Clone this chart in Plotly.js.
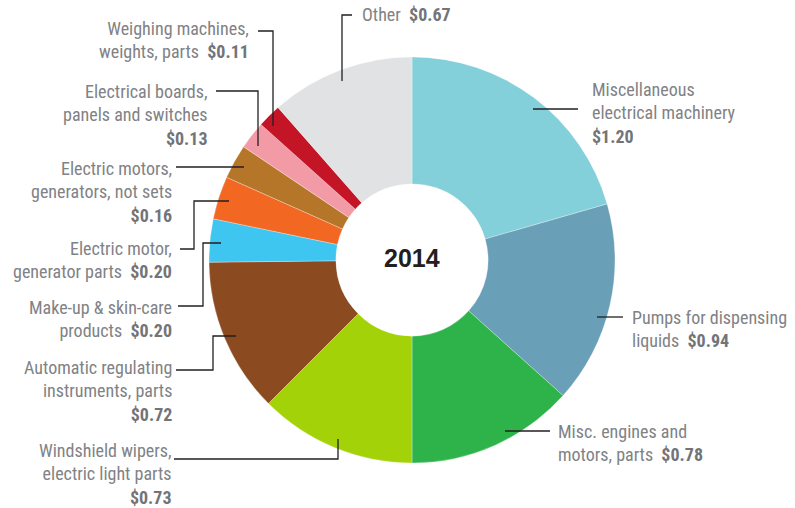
<!DOCTYPE html>
<html>
<head>
<meta charset="utf-8">
<script src="https://cdn.plot.ly/plotly-3.0.1.min.js"></script>
<style>
  html, body { margin: 0; padding: 0; background: #ffffff; }
  #chart { width: 795px; height: 508px; }
</style>
</head>
<body>
<div id="chart"></div>
<script>
// ---- Data (US$ billions, 2014) ----
const categories = [
  "Miscellaneous electrical machinery",
  "Pumps for dispensing liquids",
  "Misc. engines and motors, parts",
  "Windshield wipers, electric light parts",
  "Automatic regulating instruments, parts",
  "Make-up & skin-care products",
  "Electric motor, generator parts",
  "Electric motors, generators, not sets",
  "Electrical boards, panels and switches",
  "Weighing machines, weights, parts",
  "Other"
];
const values = [1.20, 0.94, 0.78, 0.73, 0.72, 0.20, 0.20, 0.16, 0.13, 0.11, 0.67];
const sliceColors = ["#83D0DB", "#6A9FB8", "#2DB34A", "#A2D207", "#8B4A20",
                     "#3EC5F0", "#F26722", "#B5762A", "#F29BA6", "#C41527", "#E1E2E3"];
const centerLabel = "2014";
// label display text, "{v}" is replaced by the value
const labelTemplates = [
  "Miscellaneous<br>electrical machinery<br>{v}",
  "Pumps for dispensing<br>liquids  {v}",
  "Misc. engines and<br>motors, parts  {v}",
  "Windshield wipers,<br>electric light parts<br>{v}",
  "Automatic regulating<br>instruments, parts<br>{v}",
  "Make-up & skin-care<br>products  {v}",
  "Electric motor,<br>generator parts  {v}",
  "Electric motors,<br>generators, not sets<br>{v}",
  "Electrical boards,<br>panels and switches<br>{v}",
  "Weighing machines,<br>weights, parts  {v}",
  "Other  {v}"
];

// ---- Layout positions (pixels) ----
const W = 795, H = 508;
const px = x => x / W;
const py = y => 1 - y / H;
// [x, y, side]  side: 'left' => text anchored at its left edge; 'right' => right edge
const labelPos = [
  [592, 113, 'left'],
  [632, 329, 'left'],
  [558, 443, 'left'],
  [172, 474, 'right'],
  [172, 391, 'right'],
  [172, 319, 'right'],
  [172, 260, 'right'],
  [172, 192, 'right'],
  [208, 115, 'right'],
  [249, 40, 'right'],
  [362, 15, 'left']
];
// leader polylines in pixels
const leaders = [
  [[533, 109], [578, 109]],
  [[597, 317], [623, 317]],
  [[505, 431], [550, 431]],
  [[174, 459], [338, 459], [338, 439]],
  [[176, 370], [213, 370], [213, 336], [236, 336]],
  [[178, 306], [203, 306], [203, 243], [221, 243]],
  [[180, 249], [194, 249], [194, 201], [229, 201]],
  [[176, 167], [244, 167]],
  [[216, 91], [258, 91], [258, 146]],
  [[258, 31], [273, 31], [273, 126]],
  [[352, 15], [342, 15], [342, 81]]
];
const cx = 412, cy = 260, R = 203;

const fontFam = '"Liberation Sans Narrow", "Roboto Condensed", "Arial Narrow", Roboto, "Liberation Sans", sans-serif';
const labelColor = "#808285";
const valueColor = "#737477";

const trace = {
  type: 'pie',
  labels: categories,
  values: values,
  sort: false,
  direction: 'clockwise',
  rotation: 0,
  hole: 0.375,
  textinfo: 'none',
  hoverinfo: 'label+value',
  marker: { colors: sliceColors, line: { color: '#ffffff', width: 0.3 } },
  domain: { x: [px(cx - R), px(cx + R)], y: [py(cy + R), py(cy - R)] },
  showlegend: false
};

const annotations = categories.map((c, i) => {
  const [x, y, side] = labelPos[i];
  const vtxt = '<b><span style="color:' + valueColor + '">$' + values[i].toFixed(2) + '</span></b>';
  return {
    xref: 'paper', yref: 'paper',
    x: px(x), y: py(y),
    xanchor: side, yanchor: 'middle',
    align: side,
    text: labelTemplates[i].replace('{v}', vtxt),
    showarrow: false,
    borderpad: 0, borderwidth: 0,
    font: { family: fontFam, size: 18, color: labelColor }
  };
});
annotations.push({
  xref: 'paper', yref: 'paper',
  x: px(cx), y: py(cy - 2),
  xanchor: 'center', yanchor: 'middle',
  text: '<b>' + centerLabel + '</b>',
  showarrow: false,
  font: { family: '"Liberation Sans", Arial, sans-serif', size: 25, color: '#231F20' }
});

const shapes = leaders.map(pts => ({
  type: 'path',
  xref: 'paper', yref: 'paper',
  path: pts.map((p, j) => (j === 0 ? 'M' : 'L') + px(p[0]) + ',' + py(p[1])).join(' '),
  line: { color: '#231F20', width: 1.3 },
  layer: 'above'
}));

const layout = {
  width: W, height: H,
  margin: { l: 0, r: 0, t: 0, b: 0 },
  paper_bgcolor: '#ffffff',
  plot_bgcolor: '#ffffff',
  annotations: annotations,
  shapes: shapes
};

Plotly.newPlot('chart', [trace], layout, { displayModeBar: false, staticPlot: true });
</script>
</body>
</html>
